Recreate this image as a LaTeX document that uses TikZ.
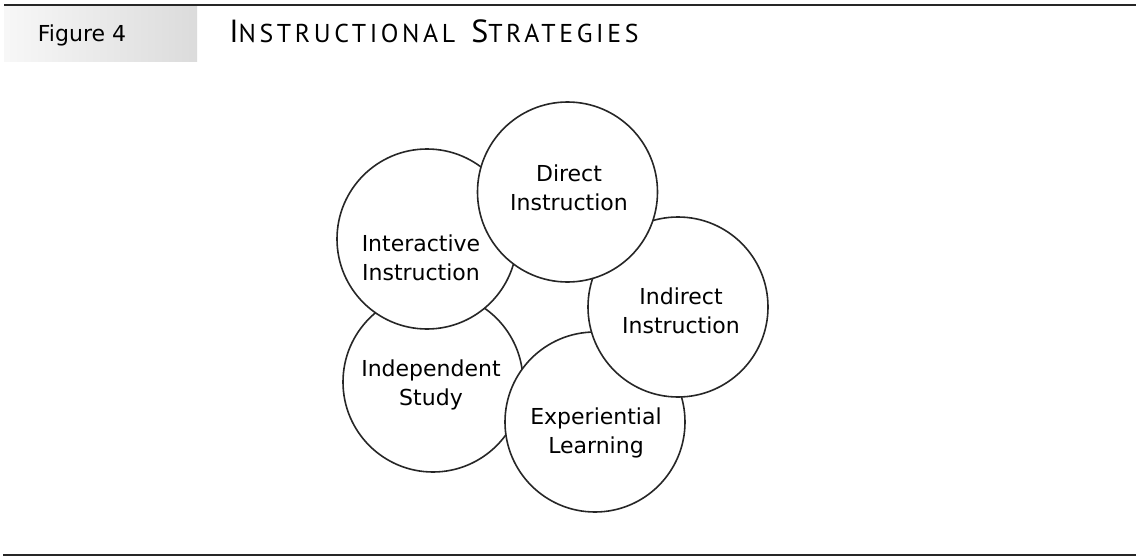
\documentclass[tikz,border=0pt]{standalone}
\usepackage{fontspec}
\setmainfont{DejaVu Sans}
\newfontfamily\headfont{PT Sans}[LetterSpace=14]
\usetikzlibrary{calc}
\tikzset{
    strategy/.style={
        circle, draw=black!85, line width=0.8pt,
        minimum size=90pt, inner sep=0pt, fill=white
    },
    strategylabel/.style={
        align=center, inner sep=0pt,
        font=\fontsize{11pt}{14.5pt}\selectfont
    },
    figtag/.style={
        rectangle, left color=black!3, right color=black!14,
        minimum width=96.5pt, minimum height=27.5pt, inner sep=0pt
    },
    hrule/.style={draw=black!85, line width=1pt}
}

\begin{document}
\begin{tikzpicture}[x=0.5pt, y=-0.5pt]
\useasboundingbox (0,0) rectangle (1136,557);

% Header
\coordinate (topleft) at (4,5);
\coordinate (topright) at (1136,5);
\draw[hrule] (topleft) -- (topright);
\node[figtag] (figbox) at (100.5,33.5) {};
\node[anchor=base, inner sep=0pt, font=\fontsize{11pt}{13pt}\selectfont] (figno) at (82,41.7) {Figure 4};
\node[anchor=base west, inner sep=0pt] (title) at (229,42.5)
    {\headfont\fontsize{16pt}{18pt}\selectfont I\fontsize{12.9pt}{14pt}\selectfont NSTRUCTIONAL\hspace{8pt}%
     \fontsize{16pt}{18pt}\selectfont S\fontsize{12.9pt}{14pt}\selectfont TRATEGIES};

% Circles (back to front)
\node[strategy] (independent) at (433,382) {};
\node[strategy] (experiential) at (595,422) {};
\node[strategy] (indirect) at (678,307) {};
\node[strategy] (interactive) at (427,239) {};
\node[strategy] (direct) at (567.5,192) {};

% Labels
\node[strategylabel] (direct-label) at ($(direct)+(1.5,-4)$) {Direct\\Instruction};
\node[strategylabel] (interactive-label) at ($(interactive)+(-6,19)$) {Interactive\\Instruction};
\node[strategylabel] (indirect-label) at ($(indirect)+(3,4)$) {Indirect\\Instruction};
\node[strategylabel] (independent-label) at ($(independent)+(-2,3)$) {Independent\\Study};
\node[strategylabel] (experiential-label) at ($(experiential)+(1,11)$) {Experiential\\Learning};

% Footer
\coordinate (botleft) at (3,555);
\coordinate (botright) at (1136,555);
\draw[hrule] (botleft) -- (botright);

\end{tikzpicture}
\end{document}
